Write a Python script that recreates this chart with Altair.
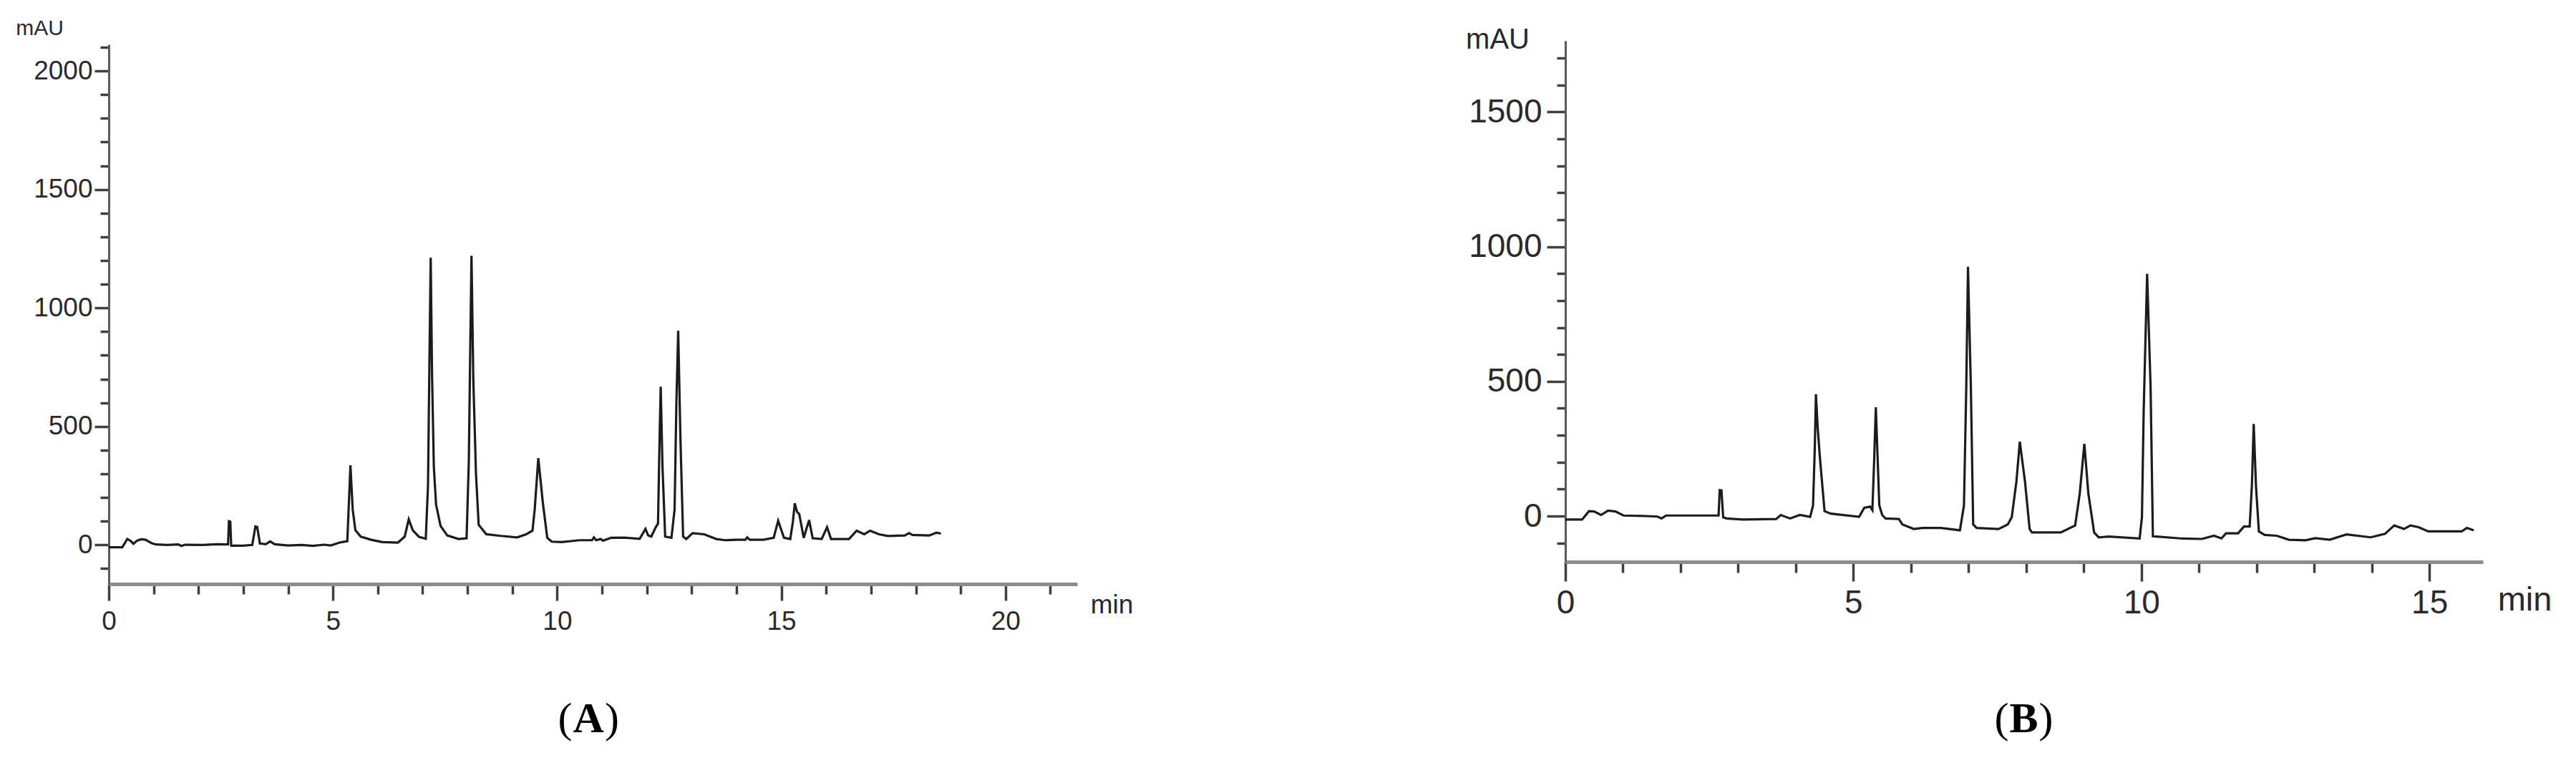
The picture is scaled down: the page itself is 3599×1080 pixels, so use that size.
import altair as alt
import pandas as pd

# ---------------- data ----------------
A_TIME = [0.00, 0.30, 0.36, 0.41, 0.48, 0.55, 0.63, 0.72, 0.82, 0.95, 1.05, 1.30, 1.55, 1.62, 1.70,
          2.10, 2.40, 2.66, 2.68, 2.71, 2.73, 3.00, 3.20, 3.27, 3.31, 3.37, 3.50, 3.60, 3.70, 4.00,
          4.30, 4.55, 4.80, 4.95, 5.15, 5.32, 5.39, 5.44, 5.50, 5.62, 5.85, 6.10, 6.45, 6.60, 6.69,
          6.78, 6.92, 7.07, 7.12, 7.15, 7.18, 7.21, 7.25, 7.30, 7.40, 7.55, 7.80, 7.98, 8.03, 8.06,
          8.09, 8.13, 8.19, 8.25, 8.42, 8.75, 9.11, 9.31, 9.45, 9.50, 9.58, 9.68, 9.78, 9.88, 10.10,
          10.50, 10.78, 10.82, 10.87, 10.97, 11.02, 11.20, 11.50, 11.84, 11.90, 11.97, 12.03, 12.10, 12.20, 12.25,
          12.28, 12.31, 12.35, 12.41, 12.55, 12.62, 12.66, 12.70, 12.75, 12.81, 12.88, 13.02, 13.28, 13.55, 13.75,
          14.00, 14.20, 14.24, 14.30, 14.60, 14.83, 14.93, 15.06, 15.20, 15.26, 15.30, 15.35, 15.40, 15.50, 15.62,
          15.70, 15.90, 16.02, 16.11, 16.51, 16.68, 16.85, 16.98, 17.18, 17.38, 17.75, 17.85, 17.92, 18.30, 18.46,
          18.56]
A_MAU = [-10, -10, 8, 25, 18, 5, 18, 24, 22, 8, 2, 0, 2, -4, 1,
         0, 3, 2, 100, 98, -3, -3, 0, 78, 76, 6, 3, 15, 3, -2,
         0, -4, 1, -2, 10, 16, 336, 150, 62, 35, 22, 12, 10, 35, 108,
         62, 34, 26, 250, 750, 1212, 720, 330, 170, 80, 40, 25, 28, 350, 800,
         1220, 700, 300, 85, 45, 38, 32, 45, 60, 150, 366, 180, 30, 14, 12,
         20, 20, 32, 20, 25, 18, 30, 31, 26, 45, 68, 40, 35, 75, 90,
         400, 668, 330, 35, 30, 150, 600, 904, 450, 35, 25, 50, 45, 25, 20,
         22, 22, 32, 22, 22, 30, 102, 30, 25, 100, 176, 140, 130, 30, 105,
         28, 25, 75, 25, 25, 60, 45, 60, 45, 38, 40, 50, 42, 40, 52,
         48]

B_TIME = [0.00, 0.29, 0.36, 0.41, 0.50, 0.62, 0.74, 0.87, 1.01, 1.40, 1.60, 1.67, 1.75, 2.20, 2.66,
          2.68, 2.71, 2.74, 2.80, 3.08, 3.66, 3.74, 3.90, 4.07, 4.25, 4.30, 4.33, 4.35, 4.38, 4.42,
          4.50, 4.61, 5.10, 5.19, 5.29, 5.33, 5.36, 5.39, 5.45, 5.50, 5.56, 5.79, 5.85, 6.05, 6.20,
          6.52, 6.85, 6.92, 6.96, 6.99, 7.04, 7.08, 7.14, 7.52, 7.68, 7.75, 7.83, 7.89, 7.98, 8.06,
          8.10, 8.60, 8.85, 8.93, 9.01, 9.08, 9.18, 9.26, 9.43, 9.97, 10.01, 10.04, 10.10, 10.16, 10.20,
          10.26, 10.68, 11.05, 11.26, 11.39, 11.47, 11.68, 11.78, 11.88, 11.92, 11.95, 11.99, 12.04, 12.14, 12.35,
          12.56, 12.85, 13.02, 13.27, 13.56, 13.98, 14.23, 14.39, 14.56, 14.67, 14.81, 14.98, 15.23, 15.56, 15.65,
          15.77]
B_MAU = [-13, -13, 5, 18, 17, 4, 20, 17, 2, 0, -2, -9, 2, 2, 2,
         96, 95, -5, -9, -13, -11, 4, -9, 4, -3, 39, 250, 452, 330, 215,
         18, 9, -3, 31, 35, 22, 200, 404, 40, 4, -9, -11, -31, -48, -44,
         -44, -53, 39, 477, 925, 477, -31, -44, -48, -31, -4, 127, 276, 127, -48,
         -61, -61, -35, 83, 268, 83, -61, -79, -76, -83, -4, 390, 899, 478, -75,
         -76, -83, -85, -73, -83, -64, -64, -39, -39, 120, 342, 110, -57, -70, -73,
         -88, -90, -82, -88, -68, -79, -66, -35, -48, -35, -41, -57, -57, -57, -44,
         -53]

A_X_TICKS = list(range(0, 22))            # every minute, labelled every 5
A_Y_TICKS = list(range(-100, 2101, 100))  # every 100 mAU, labelled every 500
B_X_TICKS = list(range(0, 16))
B_Y_TICKS = list(range(-100, 1701, 100))
X_LABEL_STEP = 5
Y_LABEL_STEP = 500

# ---------------- layout ----------------
W, H = 3583, 1064
SANS = "Liberation Sans"
SERIF = "Liberation Serif"
INK = "#2a2a2a"
TICK = "#3f3f3f"


def panel(times, values, x_dom, x_rng, y_dom, y_rng, x_off, y_off,
          x_ticks, y_ticks, lab_size,
          x_tick, x_tick_min, y_tick, y_tick_min, x_pad, y_pad,
          ytitle_xy, ytitle_size, xtitle_xy, xtitle_size,
          letter, label_xy, half):
    df = pd.DataFrame({"t": times, "v": values})
    xs = alt.Scale(domain=x_dom, range=x_rng, nice=False, zero=False)
    ys = alt.Scale(domain=y_dom, range=y_rng, nice=False, zero=False)
    x_major = f"datum.value % {X_LABEL_STEP} === 0"
    y_major = f"datum.value % {Y_LABEL_STEP} === 0"
    common = dict(grid=False, tickWidth=3.5, tickColor=TICK, labelFont=SANS,
                  labelColor=INK, labelFontSize=lab_size, labelFlush=False,
                  labelOverlap=False, format="d")
    trace = alt.Chart(df).mark_line(color="#1c1c1c", strokeWidth=3.2).encode(
        x=alt.X("t:Q", scale=xs, axis=alt.Axis(
            orient="bottom", offset=x_off, values=x_ticks,
            tickSize={"condition": {"test": x_major, "value": x_tick}, "value": x_tick_min},
            labelExpr=f"{x_major} ? datum.label : ''",
            labelPadding=x_pad, domainColor="#8c8c8c", domainWidth=5,
            title="min", titleFont=SANS, titleFontSize=xtitle_size,
            titleFontWeight="normal", titleColor=INK, titleX=xtitle_xy[0],
            titleY=xtitle_xy[1], titleAlign="center", titleBaseline="middle",
            titleAngle=0, **common)),
        y=alt.Y("v:Q", scale=ys, axis=alt.Axis(
            orient="left", offset=y_off, values=y_ticks,
            tickSize={"condition": {"test": y_major, "value": y_tick}, "value": y_tick_min},
            labelExpr=f"{y_major} ? datum.label : ''",
            labelPadding=y_pad, domainColor="#5a5a5a", domainWidth=3,
            title="mAU", titleFont=SANS, titleFontSize=ytitle_size,
            titleFontWeight="normal", titleColor=INK, titleX=ytitle_xy[0],
            titleY=ytitle_xy[1], titleAlign="center", titleBaseline="middle",
            titleAngle=0, **common)),
    )

    def glyph(s, dx, align, weight):
        return alt.Chart(pd.DataFrame({"s": [s]})).mark_text(
            font=SERIF, fontSize=60, fontWeight=weight, align=align,
            baseline="middle", dx=dx, color="#000000").encode(
            x=alt.XDatum(label_xy[0], scale=xs, axis=None),
            y=alt.YDatum(label_xy[1], scale=ys, axis=None),
            text="s:N")

    return [trace,
            glyph("(", -half - 1, "right", "normal"),
            glyph(letter, 0, "center", "bold"),
            glyph(")", half + 1, "left", "normal")]


layers = panel(A_TIME, A_MAU, [0, 21.6], [144, 1497], [-165, 2112], [808, 54],
               808 - H, -144, A_X_TICKS, A_Y_TICKS, 37,
               23, 14, 20, 12, 11, 3, (-97, 31), 30, (1545, 29), 37,
               "A", (10.7, -736), 21.7)
layers += panel(B_TIME, B_MAU, [0, 15.93], [2179, 3461], [-170, 1764], [777, 49],
                777 - H, -2179, B_X_TICKS, B_Y_TICKS, 46,
                27, 15, 26, 12, 8, 7, (-95, 47), 40, (3519, 53), 47,
                "B", (7.96, -754), 20)

chart = alt.layer(*layers).resolve_scale(
    x="independent", y="independent"
).properties(
    width=W, height=H, padding=0, autosize="none", background="white"
).configure_view(strokeOpacity=0)

chart.save("out.html", embed_options={"renderer": "svg", "actions": False})
